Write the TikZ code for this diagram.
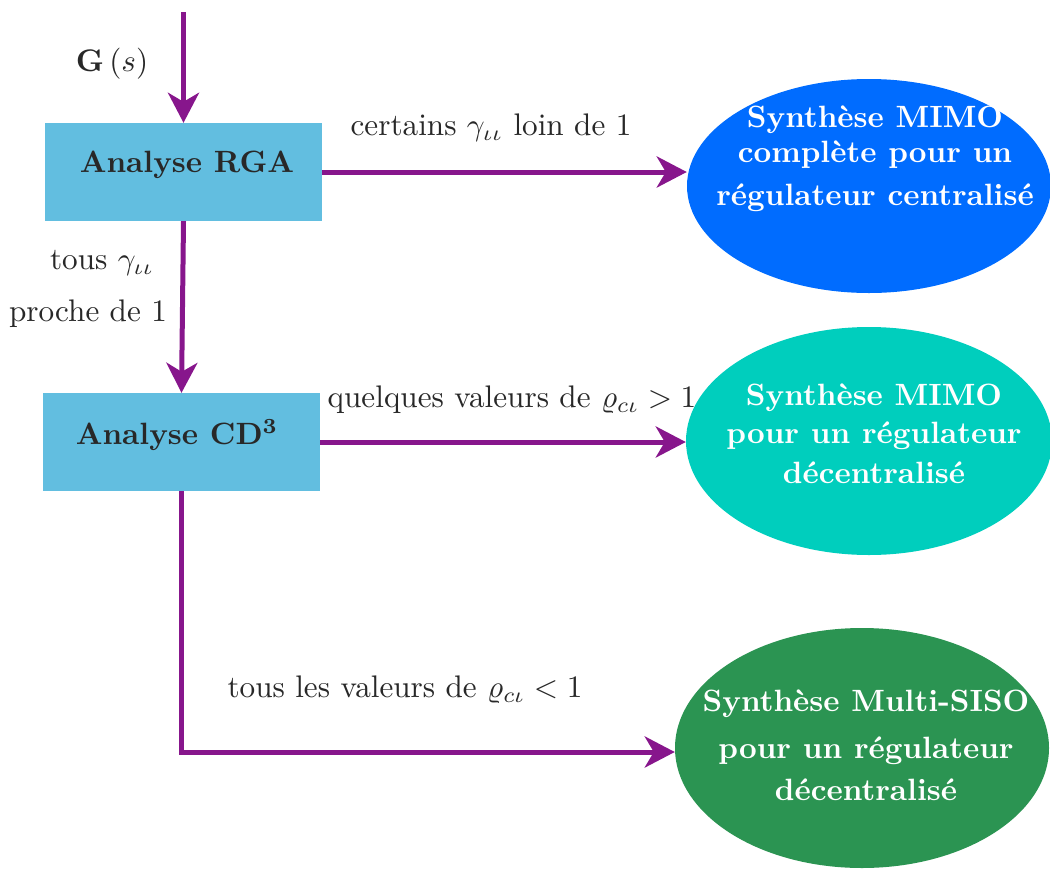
\documentclass[tikz,border=0pt]{standalone}
\usetikzlibrary{arrows.meta,shapes.geometric}
\definecolor{boxblue}{RGB}{98,190,224}
\definecolor{ellblue}{RGB}{0,108,255}
\definecolor{ellcyan}{RGB}{0,206,189}
\definecolor{ellgreen}{RGB}{43,148,82}
\definecolor{arrpurple}{RGB}{135,22,140}
\definecolor{txtgray}{RGB}{40,40,40}
\begin{document}
\begin{tikzpicture}[x=1pt,y=-1pt,
  every node/.style={font=\fontsize{10}{12}\selectfont},
  blockbox/.style={rectangle,fill=boxblue,minimum width=277pt,minimum height=98pt,inner sep=0pt},
  blocktext/.style={text=txtgray,scale=3.08,font=\fontsize{10}{12}\selectfont\bfseries},
  ell/.style={ellipse,inner sep=0pt},
  elltext/.style={text=white,align=center,scale=3.08,font=\fontsize{10}{12}\selectfont\bfseries},
  lbl/.style={text=txtgray,scale=3.12},
  arr/.style={draw=arrpurple,line width=5pt,-{Stealth[length=30pt,width=31pt,inset=9pt]}},
  seg/.style={draw=arrpurple,line width=5pt}
]
\useasboundingbox (0,0) rectangle (1050,868);

% boxes
\node[blockbox] (rga) at (183.5,172) {};
\node[blocktext] (rgat) at (187,165) {Analyse RGA};
\node[blockbox] (cd) at (181.5,442) {};
\node[blocktext] (cdt) at (177,435) {Analyse CD$^{\mathbf{3}}$};

% ellipses
\node[ell,fill=ellblue,minimum width=364pt,minimum height=214pt] (e1) at (869,186) {};
\node[elltext] (e1t) at (875,159) {Synth\`ese MIMO\\[-0.7pt] compl\`ete pour un\\[1.9pt] r\'egulateur centralis\'e};
\node[ell,fill=ellcyan,minimum width=366pt,minimum height=228pt] (e2) at (869,441) {};
\node[elltext] (e2t) at (874,434) {Synth\`ese MIMO\\[0.3pt] pour un r\'egulateur\\[0.9pt] d\'ecentralis\'e};
\node[ell,fill=ellgreen,minimum width=374pt,minimum height=240pt] (e3) at (862,748) {};
\node[elltext] (e3t) at (866,745) {Synth\`ese Multi-SISO\\[3.5pt] pour un r\'egulateur\\[1.5pt] d\'ecentralis\'e};

% input
\coordinate (in) at (183.5,12);
\draw[arr] (in) -- (rga.north);
\node[lbl] (gs) at (112,64) {$\mathbf{G}\left(s\right)$};

% connectors
\draw[arr] (rga.east) -- (rga.east -| e1.west);
\node[lbl] (l1) at (491,128) {certains $\gamma_{\iota\iota}$ loin de 1};

\draw[arr] (rga.south) -- (cd.north);
\node[lbl] (l2a) at (102,263) {tous $\gamma_{\iota\iota}$};
\node[lbl] (l2b) at (88,314) {proche de 1};

\draw[arr] (cd.east) -- (cd.east -| e2.west);
\node[lbl] (l3) at (512,400) {quelques valeurs de $\varrho_{c\iota}>1$};

\coordinate (corner) at (cd.south |- 0,752);
\draw[seg] (cd.south) -- (corner);
\draw[arr] ([xshift=-2.5pt]corner) -- (corner -| e3.west);
\node[lbl] (l4) at (405,690) {tous les valeurs de $\varrho_{c\iota}<1$};
\end{tikzpicture}
\end{document}
